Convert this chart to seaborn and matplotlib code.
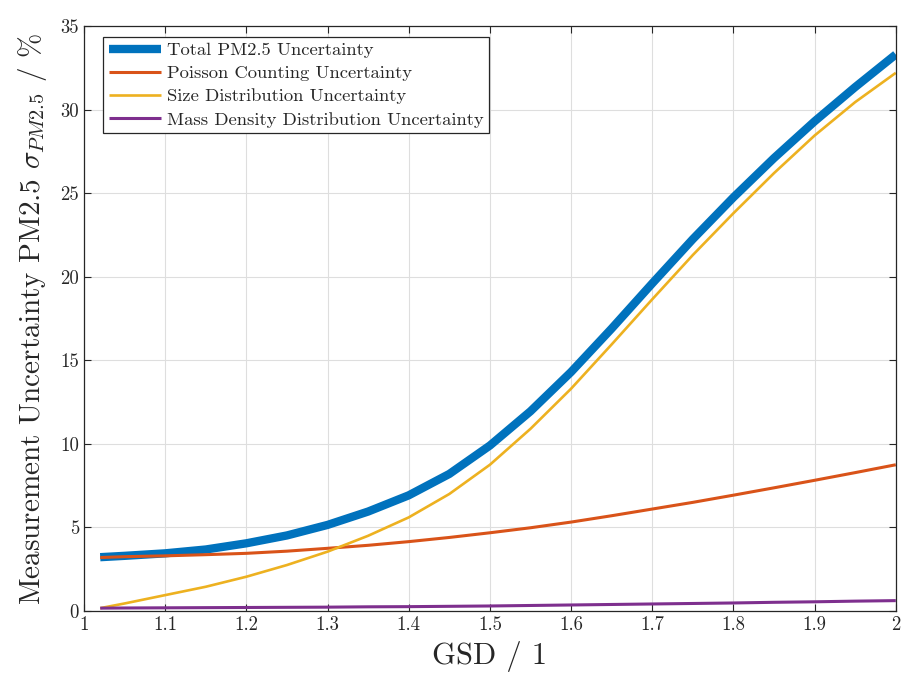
import numpy as np
import pandas as pd
import matplotlib
matplotlib.use("Agg")
import matplotlib.pyplot as plt
import seaborn as sns

# ---- data ----
gsd = [1.02, 1.05, 1.10, 1.15, 1.20, 1.25, 1.30, 1.35, 1.40, 1.45, 1.50,
       1.55, 1.60, 1.65, 1.70, 1.75, 1.80, 1.85, 1.90, 1.95, 2.00]
total = [3.22, 3.30, 3.45, 3.68, 4.05, 4.52, 5.15, 5.95, 6.92, 8.20, 9.90,
         11.95, 14.3, 16.9, 19.6, 22.25, 24.75, 27.1, 29.3, 31.35, 33.3]
poisson = [3.20, 3.25, 3.30, 3.37, 3.45, 3.58, 3.75, 3.93, 4.15, 4.40, 4.68,
           4.98, 5.32, 5.70, 6.10, 6.50, 6.93, 7.37, 7.82, 8.28, 8.75]
size_dist = [0.17, 0.45, 0.95, 1.45, 2.05, 2.75, 3.55, 4.50, 5.60, 7.00, 8.75,
             10.9, 13.3, 15.95, 18.65, 21.3, 23.8, 26.2, 28.45, 30.45, 32.2]
mass_density = [0.17, 0.18, 0.19, 0.20, 0.21, 0.22, 0.23, 0.25, 0.26, 0.28, 0.30,
                0.33, 0.36, 0.39, 0.42, 0.45, 0.48, 0.52, 0.55, 0.59, 0.62]
labels = ["Total PM2.5 Uncertainty", "Poisson Counting Uncertainty",
          "Size Distribution Uncertainty", "Mass Density Distribution Uncertainty"]
colors = ["#0072BD", "#D95319", "#EDB120", "#7E2F8E"]
widths = [6.0, 2.2, 1.9, 2.2]
x_ticks = [1.0, 1.1, 1.2, 1.3, 1.4, 1.5, 1.6, 1.7, 1.8, 1.9, 2.0]
x_tick_labels = ["1", "1.1", "1.2", "1.3", "1.4", "1.5", "1.6", "1.7", "1.8", "1.9", "2"]
y_ticks = [0, 5, 10, 15, 20, 25, 30, 35]

series = [total, poisson, size_dist, mass_density]
df = pd.concat([pd.DataFrame({"GSD": gsd, "value": s, "series": lab})
                for s, lab in zip(series, labels)], ignore_index=True)

sns.set_style("ticks")
plt.rcParams["font.family"] = ["cmr10", "DejaVu Serif"]
plt.rcParams["mathtext.fontset"] = "cm"
plt.rcParams["axes.formatter.use_mathtext"] = True
plt.rcParams["xtick.direction"] = "in"
plt.rcParams["ytick.direction"] = "in"
plt.rcParams["lines.solid_capstyle"] = "butt"
plt.rcParams["lines.solid_joinstyle"] = "round"

fig = plt.figure(figsize=(9.03, 6.77), dpi=100)
ax = fig.add_axes([0.093, 0.0975, 0.899, 0.864])

for lab, col, lw in zip(labels, colors, widths):
    sns.lineplot(data=df[df["series"] == lab], x="GSD", y="value", color=col,
                 linewidth=lw, label=lab, ax=ax, sort=True, estimator=None)

ax.set_xlim(1, 2)
ax.set_ylim(0, 35)
ax.set_xticks(x_ticks)
ax.set_xticklabels(x_tick_labels)
ax.set_yticks(y_ticks)
ax.set_yticklabels([str(v) for v in y_ticks])
ax.tick_params(axis="both", which="both", direction="in", top=True, right=True,
               length=5, width=0.8, labelsize=13.5, colors="#262626")
ax.grid(True, color="#dedede", linewidth=0.8)
for sp in ax.spines.values():
    sp.set_visible(True)
    sp.set_color("#262626")
    sp.set_linewidth(0.9)

ax.set_xlabel("GSD / 1", fontsize=22, labelpad=5)
ax.set_ylabel(r"Measurement Uncertainty PM2.5 $\sigma_{PM2.5}$ / %", fontsize=21, labelpad=8)

leg = ax.legend(loc="upper left", bbox_to_anchor=(0.024, 0.982), borderaxespad=0,
                fontsize=13.4, handlelength=2.8, handletextpad=0.3, labelspacing=0.38,
                frameon=True, fancybox=False, borderpad=0.3)
leg.get_frame().set_edgecolor("#262626")
leg.get_frame().set_linewidth(0.9)
leg.get_frame().set_alpha(1)

fig.savefig("out.png", dpi=100)
